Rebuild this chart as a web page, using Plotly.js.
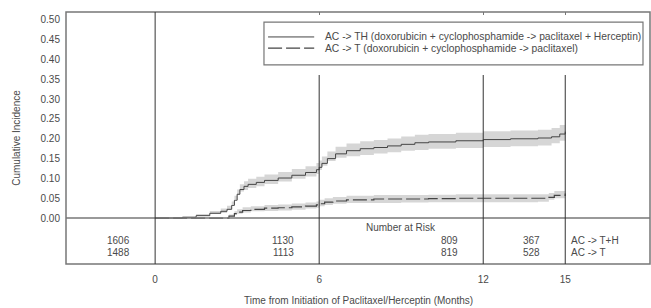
<!DOCTYPE html>
<html>
<head>
<meta charset="utf-8">
<script src="https://cdn.plot.ly/plotly-3.0.1.min.js"></script>
<style>html,body{margin:0;padding:0;background:#fff;}#chart{width:651px;height:308px;}</style>
</head>
<body>
<div id="chart"></div>
<script>
// ---- data ----
var tTH = [0, 1.0, 1.5, 2.0, 2.4, 2.63, 2.8, 2.9, 3.0, 3.1, 3.25, 3.4, 3.7, 4.0, 4.5, 5.0, 5.5, 5.9, 6.0, 6.1, 6.3, 6.6, 7.0, 7.5, 8.0, 8.5, 9.0, 9.5, 10.0, 11.0, 12.0, 13.0, 14.0, 14.5, 14.8, 15.0];
var ciTH = [0, 0.002, 0.006, 0.012, 0.017, 0.022, 0.032, 0.045, 0.060, 0.072, 0.080, 0.085, 0.090, 0.095, 0.101, 0.108, 0.115, 0.122, 0.128, 0.138, 0.150, 0.162, 0.170, 0.175, 0.178, 0.182, 0.186, 0.190, 0.192, 0.195, 0.198, 0.200, 0.202, 0.205, 0.212, 0.218];
var loTH = [0, 0.000, 0.002, 0.006, 0.010, 0.013, 0.022, 0.034, 0.048, 0.059, 0.067, 0.071, 0.076, 0.080, 0.086, 0.092, 0.099, 0.105, 0.111, 0.121, 0.132, 0.144, 0.152, 0.156, 0.159, 0.163, 0.166, 0.170, 0.172, 0.175, 0.177, 0.179, 0.181, 0.183, 0.189, 0.195];
var hiTH = [0, 0.004, 0.010, 0.018, 0.024, 0.031, 0.042, 0.056, 0.072, 0.085, 0.093, 0.099, 0.104, 0.110, 0.116, 0.124, 0.131, 0.139, 0.145, 0.155, 0.168, 0.180, 0.188, 0.194, 0.197, 0.201, 0.206, 0.210, 0.212, 0.215, 0.219, 0.221, 0.223, 0.227, 0.235, 0.241];

var tT = [0, 2.5, 2.7, 2.9, 3.0, 3.2, 3.5, 4.0, 4.5, 5.0, 5.5, 5.9, 6.0, 6.2, 6.5, 7.0, 8.0, 9.0, 10.0, 11.0, 12.0, 13.0, 14.0, 14.4, 14.6, 15.0];
var ciT = [0, 0, 0.005, 0.011, 0.015, 0.019, 0.022, 0.025, 0.026, 0.028, 0.030, 0.033, 0.036, 0.040, 0.043, 0.046, 0.048, 0.048, 0.049, 0.050, 0.050, 0.050, 0.050, 0.052, 0.057, 0.062];
var loT = [0, 0, 0.001, 0.005, 0.008, 0.011, 0.014, 0.017, 0.018, 0.019, 0.021, 0.024, 0.026, 0.030, 0.033, 0.036, 0.038, 0.038, 0.039, 0.040, 0.040, 0.040, 0.040, 0.041, 0.046, 0.050];
var hiT = [0, 0.001, 0.009, 0.017, 0.022, 0.027, 0.030, 0.033, 0.034, 0.037, 0.039, 0.042, 0.046, 0.050, 0.053, 0.056, 0.058, 0.058, 0.059, 0.060, 0.060, 0.060, 0.060, 0.063, 0.068, 0.074];

var seriesNames = ["AC -> TH (doxorubicin + cyclophosphamide -> paclitaxel + Herceptin)",
                   "AC -> T (doxorubicin + cyclophosphamide -> paclitaxel)"];
var xTicks = [0, 6, 12, 15];
var yTicks = [0, 0.05, 0.10, 0.15, 0.20, 0.25, 0.30, 0.35, 0.40, 0.45, 0.50];
var riskTimes = [0, 6, 12, 15];
var riskTH = [1606, 1130, 809, 367];
var riskT  = [1488, 1113, 819, 528];
var riskGroupLabels = ["AC -> T+H", "AC -> T"];
var xTitle = 'Time from Initiation of Paclitaxel/Herceptin (Months)';
var yTitle = 'Cumulative Incidence';

// ---- chart ----
var bandColor = 'rgba(200,200,200,0.75)';
var lineColor = '#444';
var textColor = '#4a4a4a';
var dashStyle = '14px,4px';

function band(t, lo, hi) {
  return {
    x: t.concat(t.slice().reverse()),
    y: hi.concat(lo.slice().reverse()),
    type: 'scatter', mode: 'lines', fill: 'toself',
    fillcolor: bandColor, line: {width: 0, shape: 'hv'},
    hoverinfo: 'skip', showlegend: false
  };
}

var traces = [
  band(tTH, loTH, hiTH),
  band(tT, loT, hiT),
  {x: tTH, y: ciTH, type: 'scatter', mode: 'lines', name: seriesNames[0],
   line: {color: lineColor, width: 1, shape: 'hv'}, showlegend: false},
  {x: tT, y: ciT, type: 'scatter', mode: 'lines', name: seriesNames[1],
   line: {color: lineColor, width: 1.2, dash: dashStyle, shape: 'hv'}, showlegend: false}
];

var shapes = [
  {type: 'rect', xref: 'paper', yref: 'paper', x0: 0, x1: 1, y0: 0, y1: 1,
   line: {color: '#777', width: 1.5}},
  {type: 'line', xref: 'paper', yref: 'y', x0: 0, x1: 1, y0: 0, y1: 0,
   line: {color: '#777', width: 1.5}},
  {type: 'line', xref: 'x', yref: 'paper', x0: xTicks[0], x1: xTicks[0], y0: 0, y1: 1,
   line: {color: '#333', width: 1}}
];
for (var i = 1; i < xTicks.length; i++) {
  shapes.push({type: 'line', xref: 'x', yref: 'paper', x0: xTicks[i], x1: xTicks[i], y0: 0, y1: 0.75,
    line: {color: '#333', width: 1}});
}

// legend (drawn as a boxed key)
var legBox = {x0: 0.339, x1: 0.988, y0: 0.79, y1: 0.96};
var legRows = [0.901, 0.857];
shapes.push({type: 'rect', xref: 'paper', yref: 'paper', x0: legBox.x0, x1: legBox.x1, y0: legBox.y0, y1: legBox.y1,
  line: {color: '#777', width: 1.2}, fillcolor: '#fff'});
shapes.push({type: 'line', xref: 'paper', yref: 'paper', x0: 0.346, x1: 0.425, y0: legRows[0], y1: legRows[0],
  line: {color: lineColor, width: 1}});
shapes.push({type: 'line', xref: 'paper', yref: 'paper', x0: 0.346, x1: 0.425, y0: legRows[1], y1: legRows[1],
  line: {color: lineColor, width: 1.2, dash: dashStyle}});

var annotations = [
  {x: 9.0, y: -0.025, xref: 'x', yref: 'y', text: 'Number at Risk', showarrow: false,
   font: {size: 10, color: textColor}, xanchor: 'center', yanchor: 'middle'},
  {x: 0.5, y: -0.146, xref: 'paper', yref: 'paper', text: xTitle, showarrow: false,
   font: {size: 10, color: textColor}, xanchor: 'center', yanchor: 'middle'}
];
for (var k = 0; k < seriesNames.length; k++) {
  annotations.push({x: 0.440, y: legRows[k], xref: 'paper', yref: 'paper', text: seriesNames[k],
    showarrow: false, xanchor: 'left', yanchor: 'middle', font: {size: 10.3, color: textColor}});
}
for (var j = 0; j < riskTimes.length; j++) {
  annotations.push({x: riskTimes[j] - 0.85, y: -0.056, xref: 'x', yref: 'y', text: String(riskTH[j]),
    showarrow: false, xanchor: 'right', yanchor: 'middle', font: {size: 10, color: textColor}});
  annotations.push({x: riskTimes[j] - 0.85, y: -0.087, xref: 'x', yref: 'y', text: String(riskT[j]),
    showarrow: false, xanchor: 'right', yanchor: 'middle', font: {size: 10, color: textColor}});
}
annotations.push({x: 15.15, y: -0.056, xref: 'x', yref: 'y', text: riskGroupLabels[0],
  showarrow: false, xanchor: 'left', yanchor: 'middle', font: {size: 10, color: textColor}});
annotations.push({x: 15.15, y: -0.087, xref: 'x', yref: 'y', text: riskGroupLabels[1],
  showarrow: false, xanchor: 'left', yanchor: 'middle', font: {size: 10, color: textColor}});

var layout = {
  width: 651, height: 308,
  margin: {l: 66, r: 1, t: 12, b: 44, pad: 0},
  paper_bgcolor: '#fff', plot_bgcolor: '#fff',
  font: {family: 'Liberation Sans, Arial, sans-serif', size: 10, color: textColor},
  showlegend: false,
  xaxis: {range: [-3.26, 18.1], tickvals: xTicks, ticktext: xTicks.map(String),
          showgrid: false, zeroline: false, showline: false, ticks: '',
          ticklabelstandoff: 8, fixedrange: true},
  xaxis2: {range: [-3.26, 18.1], overlaying: 'x', side: 'top', tickvals: xTicks.slice(1),
           showticklabels: false, ticks: 'inside', ticklen: 3, tickcolor: '#777',
           showgrid: false, zeroline: false, showline: false},
  yaxis: {range: [-0.116, 0.52], tickvals: yTicks, ticktext: yTicks.map(function(v){return v.toFixed(2);}),
          showgrid: false, zeroline: false, showline: false, ticks: '',
          ticklabelstandoff: 5, fixedrange: true,
          title: {text: yTitle, font: {size: 10, color: textColor}, standoff: 18}},
  shapes: shapes,
  annotations: annotations
};

// invisible trace to activate top axis ticks
traces.push({x: [0], y: [0], xaxis: 'x2', yaxis: 'y', mode: 'markers', marker: {opacity: 0},
             showlegend: false, hoverinfo: 'skip'});

Plotly.newPlot('chart', traces, layout, {staticPlot: true, displayModeBar: false});
</script>
</body>
</html>
